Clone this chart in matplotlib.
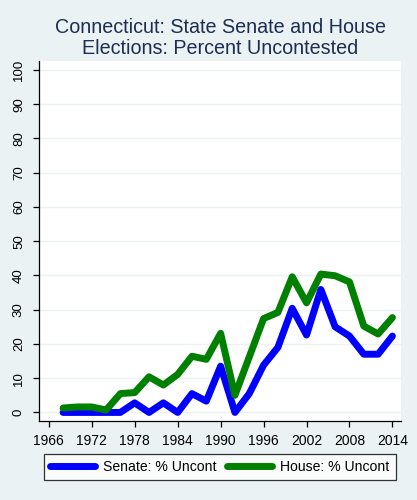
import matplotlib
matplotlib.use("Agg")
import matplotlib.pyplot as plt

# --- Data ---
years = [1968, 1970, 1972, 1974, 1976, 1978, 1980, 1982, 1984, 1986, 1988, 1990,
         1992, 1994, 1996, 1998, 2000, 2002, 2004, 2006, 2008, 2010, 2012, 2014]
senate_uncont = [0, 0, 0, 0, 0, 2.8, 0, 2.8, 0, 5.5, 3.3, 13.5,
                 0, 5.5, 13.8, 19, 30.4, 22.6, 35.9, 25, 22.3, 17, 17, 22.3]
house_uncont = [1.3, 1.6, 1.6, 0.7, 5.5, 5.8, 10.4, 8, 11.1, 16.4, 15.5, 23.1,
                5, 16.2, 27.4, 29.2, 39.6, 32, 40.4, 39.9, 38.1, 25.2, 22.9, 27.7]
x_ticks = list(range(1966, 2015, 6))
y_ticks = list(range(0, 101, 10))

BG = "#EAF2F3"
TITLE_COLOR = "#1E2D53"

plt.rcParams["font.family"] = ["Liberation Sans", "DejaVu Sans"]

fig = plt.figure(figsize=(4.17, 5.0), dpi=100, facecolor=BG)
ax = fig.add_axes([0.0947, 0.158, 0.867, 0.72])
ax.set_facecolor("white")

ax.plot(years, senate_uncont, color="#0000FF", lw=5, solid_joinstyle="round",
        solid_capstyle="round", label="Senate: % Uncont", zorder=3)
ax.plot(years, house_uncont, color="#008000", lw=5, solid_joinstyle="round",
        solid_capstyle="round", label="House: % Uncont", zorder=3)

ax.set_xlim(1964.7, 2015.2)
ax.set_ylim(-2.5, 102.6)
ax.set_xticks(x_ticks)
ax.set_yticks(y_ticks)
ax.grid(axis="y", color=BG, lw=1, zorder=0)

for side in ["top", "right"]:
    ax.spines[side].set_visible(False)
for side in ["left", "bottom"]:
    ax.spines[side].set_color("black")
    ax.spines[side].set_linewidth(0.9)

ax.tick_params(axis="both", direction="out", length=4.5, width=0.9, colors="black")
ax.tick_params(axis="x", pad=5, labelsize=10)
ax.tick_params(axis="y", pad=6, labelsize=9.5)
for lbl in ax.get_yticklabels():
    lbl.set_rotation(90)
    lbl.set_va("center")

ax.set_title("Connecticut: State Senate and House\nElections: Percent Uncontested",
             fontsize=14.2, color=TITLE_COLOR, pad=5, linespacing=1.15)

leg = fig.legend(loc="center", bbox_to_anchor=(0.527, 0.066), ncol=2,
                 fontsize=10.1, frameon=True, fancybox=False, handlelength=3.2,
                 handletextpad=0.62, columnspacing=0.7, borderpad=0.45,
                 borderaxespad=0)
leg.get_frame().set_edgecolor("black")
leg.get_frame().set_linewidth(0.9)
leg.get_frame().set_facecolor("white")

fig.savefig("out.png", dpi=100, facecolor=BG)
